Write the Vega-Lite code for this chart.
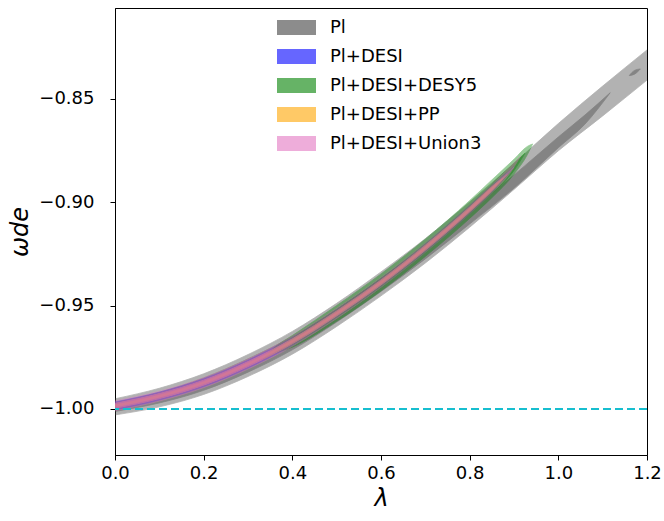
{
  "$schema": "https://vega.github.io/schema/vega-lite/v6.json",
  "width": 532,
  "height": 447,
  "autosize": {"type": "none"},
  "padding": {"left": 115, "top": 8, "right": 17, "bottom": 66},
  "background": "white",
  "config": {
    "view": {"stroke": "black", "strokeWidth": 1},
    "axis": {
      "labelFont": "DejaVu Sans", "labelFontSize": 18, "labelColor": "black",
      "tickColor": "black", "tickSize": 5, "domainColor": "black", "grid": false,
      "titleFont": "DejaVu Sans", "titleFontStyle": "italic", "titleFontWeight": "normal",
      "titleFontSize": 24, "titleColor": "black", "labelFlush": false
    }
  },
  "datasets": {
    "bands": [
      {"set": "Pl", "grp": "P2", "level": "2s", "x": 0, "lo": -1.0029, "hi": -0.9951},
      {"set": "Pl", "grp": "P2", "level": "2s", "x": 0.1, "lo": -0.9990, "hi": -0.9900},
      {"set": "Pl", "grp": "P2", "level": "2s", "x": 0.2, "lo": -0.9930, "hi": -0.9830},
      {"set": "Pl", "grp": "P2", "level": "2s", "x": 0.3, "lo": -0.9843, "hi": -0.9737},
      {"set": "Pl", "grp": "P2", "level": "2s", "x": 0.4, "lo": -0.9735, "hi": -0.9625},
      {"set": "Pl", "grp": "P2", "level": "2s", "x": 0.5, "lo": -0.9601, "hi": -0.9489},
      {"set": "Pl", "grp": "P2", "level": "2s", "x": 0.6, "lo": -0.9453, "hi": -0.9337},
      {"set": "Pl", "grp": "P2", "level": "2s", "x": 0.7, "lo": -0.9294, "hi": -0.9176},
      {"set": "Pl", "grp": "P2", "level": "2s", "x": 0.8, "lo": -0.9121, "hi": -0.8999},
      {"set": "Pl", "grp": "P2", "level": "2s", "x": 0.9, "lo": -0.8938, "hi": -0.8812},
      {"set": "Pl", "grp": "P2", "level": "2s", "x": 1.0, "lo": -0.8751, "hi": -0.8619},
      {"set": "Pl", "grp": "P2", "level": "2s", "x": 1.1, "lo": -0.8582, "hi": -0.8438},
      {"set": "Pl", "grp": "P2", "level": "2s", "x": 1.2, "lo": -0.8409, "hi": -0.8263},

      {"set": "Pl", "grp": "P1", "level": "1s", "x": 0, "lo": -1.0012, "hi": -0.9968},
      {"set": "Pl", "grp": "P1", "level": "1s", "x": 0.1, "lo": -0.9971, "hi": -0.9919},
      {"set": "Pl", "grp": "P1", "level": "1s", "x": 0.2, "lo": -0.9910, "hi": -0.9850},
      {"set": "Pl", "grp": "P1", "level": "1s", "x": 0.3, "lo": -0.9822, "hi": -0.9758},
      {"set": "Pl", "grp": "P1", "level": "1s", "x": 0.4, "lo": -0.9714, "hi": -0.9650},
      {"set": "Pl", "grp": "P1", "level": "1s", "x": 0.5, "lo": -0.9580, "hi": -0.9516},
      {"set": "Pl", "grp": "P1", "level": "1s", "x": 0.6, "lo": -0.9432, "hi": -0.9368},
      {"set": "Pl", "grp": "P1", "level": "1s", "x": 0.7, "lo": -0.9274, "hi": -0.9210},
      {"set": "Pl", "grp": "P1", "level": "1s", "x": 0.8, "lo": -0.9105, "hi": -0.9039},
      {"set": "Pl", "grp": "P1", "level": "1s", "x": 0.9, "lo": -0.8932, "hi": -0.8868},
      {"set": "Pl", "grp": "P1", "level": "1s", "x": 1.0, "lo": -0.8736, "hi": -0.8684},
      {"set": "Pl", "grp": "P1", "level": "1s", "x": 1.06, "lo": -0.8622, "hi": -0.8578},
      {"set": "Pl", "grp": "P1", "level": "1s", "x": 1.117, "lo": -0.8470, "hi": -0.8470},

      {"set": "Pl", "grp": "P1b", "level": "1s", "x": 1.16, "lo": -0.8387, "hi": -0.8387},
      {"set": "Pl", "grp": "P1b", "level": "1s", "x": 1.172, "lo": -0.8380, "hi": -0.8362},
      {"set": "Pl", "grp": "P1b", "level": "1s", "x": 1.185, "lo": -0.8355, "hi": -0.8355},

      {"set": "Pl+DESI", "grp": "D2", "level": "2s", "x": 0, "lo": -1.0004, "hi": -0.9966},
      {"set": "Pl+DESI", "grp": "D2", "level": "2s", "x": 0.1, "lo": -0.9957, "hi": -0.9919},
      {"set": "Pl+DESI", "grp": "D2", "level": "2s", "x": 0.2, "lo": -0.9892, "hi": -0.9854},
      {"set": "Pl+DESI", "grp": "D2", "level": "2s", "x": 0.3, "lo": -0.9802, "hi": -0.9764},
      {"set": "Pl+DESI", "grp": "D2", "level": "2s", "x": 0.4, "lo": -0.9692, "hi": -0.9654},
      {"set": "Pl+DESI", "grp": "D2", "level": "2s", "x": 0.5, "lo": -0.9557, "hi": -0.9519},
      {"set": "Pl+DESI", "grp": "D2", "level": "2s", "x": 0.6, "lo": -0.9407, "hi": -0.9369},
      {"set": "Pl+DESI", "grp": "D2", "level": "2s", "x": 0.7, "lo": -0.9239, "hi": -0.9201},
      {"set": "Pl+DESI", "grp": "D2", "level": "2s", "x": 0.8, "lo": -0.9054, "hi": -0.9016},
      {"set": "Pl+DESI", "grp": "D2", "level": "2s", "x": 0.85, "lo": -0.8952, "hi": -0.8918},
      {"set": "Pl+DESI", "grp": "D2", "level": "2s", "x": 0.9, "lo": -0.8828, "hi": -0.8828},

      {"set": "Pl+DESI", "grp": "D1", "level": "1s", "x": 0, "lo": -0.9994, "hi": -0.9976},
      {"set": "Pl+DESI", "grp": "D1", "level": "1s", "x": 0.1, "lo": -0.9947, "hi": -0.9929},
      {"set": "Pl+DESI", "grp": "D1", "level": "1s", "x": 0.2, "lo": -0.9882, "hi": -0.9864},
      {"set": "Pl+DESI", "grp": "D1", "level": "1s", "x": 0.3, "lo": -0.9792, "hi": -0.9774},
      {"set": "Pl+DESI", "grp": "D1", "level": "1s", "x": 0.4, "lo": -0.9682, "hi": -0.9664},
      {"set": "Pl+DESI", "grp": "D1", "level": "1s", "x": 0.5, "lo": -0.9547, "hi": -0.9529},
      {"set": "Pl+DESI", "grp": "D1", "level": "1s", "x": 0.6, "lo": -0.9397, "hi": -0.9379},
      {"set": "Pl+DESI", "grp": "D1", "level": "1s", "x": 0.7, "lo": -0.9229, "hi": -0.9211},
      {"set": "Pl+DESI", "grp": "D1", "level": "1s", "x": 0.8, "lo": -0.9044, "hi": -0.9026},
      {"set": "Pl+DESI", "grp": "D1", "level": "1s", "x": 0.85, "lo": -0.8943, "hi": -0.8927},
      {"set": "Pl+DESI", "grp": "D1", "level": "1s", "x": 0.885, "lo": -0.8862, "hi": -0.8862},

      {"set": "Pl+DESI+DESY5", "grp": "G2", "level": "2s", "x": 0.334, "lo": -0.9760, "hi": -0.9760},
      {"set": "Pl+DESI+DESY5", "grp": "G2", "level": "2s", "x": 0.36, "lo": -0.9732, "hi": -0.9702},
      {"set": "Pl+DESI+DESY5", "grp": "G2", "level": "2s", "x": 0.4, "lo": -0.9701, "hi": -0.9645},
      {"set": "Pl+DESI+DESY5", "grp": "G2", "level": "2s", "x": 0.5, "lo": -0.9576, "hi": -0.9500},
      {"set": "Pl+DESI+DESY5", "grp": "G2", "level": "2s", "x": 0.6, "lo": -0.9429, "hi": -0.9347},
      {"set": "Pl+DESI+DESY5", "grp": "G2", "level": "2s", "x": 0.7, "lo": -0.9262, "hi": -0.9178},
      {"set": "Pl+DESI+DESY5", "grp": "G2", "level": "2s", "x": 0.8, "lo": -0.9078, "hi": -0.8992},
      {"set": "Pl+DESI+DESY5", "grp": "G2", "level": "2s", "x": 0.85, "lo": -0.8978, "hi": -0.8892},
      {"set": "Pl+DESI+DESY5", "grp": "G2", "level": "2s", "x": 0.9, "lo": -0.8864, "hi": -0.8792},
      {"set": "Pl+DESI+DESY5", "grp": "G2", "level": "2s", "x": 0.93, "lo": -0.8770, "hi": -0.8730},
      {"set": "Pl+DESI+DESY5", "grp": "G2", "level": "2s", "x": 0.942, "lo": -0.8718, "hi": -0.8718},

      {"set": "Pl+DESI+DESY5", "grp": "G1", "level": "1s", "x": 0.36, "lo": -0.9725, "hi": -0.9725},
      {"set": "Pl+DESI+DESY5", "grp": "G1", "level": "1s", "x": 0.4, "lo": -0.9687, "hi": -0.9659},
      {"set": "Pl+DESI+DESY5", "grp": "G1", "level": "1s", "x": 0.5, "lo": -0.9557, "hi": -0.9519},
      {"set": "Pl+DESI+DESY5", "grp": "G1", "level": "1s", "x": 0.6, "lo": -0.9409, "hi": -0.9367},
      {"set": "Pl+DESI+DESY5", "grp": "G1", "level": "1s", "x": 0.7, "lo": -0.9241, "hi": -0.9199},
      {"set": "Pl+DESI+DESY5", "grp": "G1", "level": "1s", "x": 0.8, "lo": -0.9056, "hi": -0.9014},
      {"set": "Pl+DESI+DESY5", "grp": "G1", "level": "1s", "x": 0.85, "lo": -0.8956, "hi": -0.8914},
      {"set": "Pl+DESI+DESY5", "grp": "G1", "level": "1s", "x": 0.9, "lo": -0.8846, "hi": -0.8810},
      {"set": "Pl+DESI+DESY5", "grp": "G1", "level": "1s", "x": 0.925, "lo": -0.8762, "hi": -0.8762},

      {"set": "Pl+DESI+PP", "grp": "O2", "level": "2s", "x": 0, "lo": -0.9997, "hi": -0.9973},
      {"set": "Pl+DESI+PP", "grp": "O2", "level": "2s", "x": 0.1, "lo": -0.9950, "hi": -0.9926},
      {"set": "Pl+DESI+PP", "grp": "O2", "level": "2s", "x": 0.2, "lo": -0.9885, "hi": -0.9861},
      {"set": "Pl+DESI+PP", "grp": "O2", "level": "2s", "x": 0.3, "lo": -0.9795, "hi": -0.9771},
      {"set": "Pl+DESI+PP", "grp": "O2", "level": "2s", "x": 0.4, "lo": -0.9685, "hi": -0.9661},
      {"set": "Pl+DESI+PP", "grp": "O2", "level": "2s", "x": 0.5, "lo": -0.9550, "hi": -0.9526},
      {"set": "Pl+DESI+PP", "grp": "O2", "level": "2s", "x": 0.6, "lo": -0.9400, "hi": -0.9376},
      {"set": "Pl+DESI+PP", "grp": "O2", "level": "2s", "x": 0.7, "lo": -0.9232, "hi": -0.9208},
      {"set": "Pl+DESI+PP", "grp": "O2", "level": "2s", "x": 0.8, "lo": -0.9047, "hi": -0.9023},
      {"set": "Pl+DESI+PP", "grp": "O2", "level": "2s", "x": 0.85, "lo": -0.8946, "hi": -0.8924},
      {"set": "Pl+DESI+PP", "grp": "O2", "level": "2s", "x": 0.885, "lo": -0.8865, "hi": -0.8865},

      {"set": "Pl+DESI+PP", "grp": "O1", "level": "1s", "x": 0, "lo": -0.9990, "hi": -0.9980},
      {"set": "Pl+DESI+PP", "grp": "O1", "level": "1s", "x": 0.1, "lo": -0.9943, "hi": -0.9933},
      {"set": "Pl+DESI+PP", "grp": "O1", "level": "1s", "x": 0.2, "lo": -0.9878, "hi": -0.9868},
      {"set": "Pl+DESI+PP", "grp": "O1", "level": "1s", "x": 0.3, "lo": -0.9788, "hi": -0.9778},
      {"set": "Pl+DESI+PP", "grp": "O1", "level": "1s", "x": 0.4, "lo": -0.9678, "hi": -0.9668},
      {"set": "Pl+DESI+PP", "grp": "O1", "level": "1s", "x": 0.5, "lo": -0.9543, "hi": -0.9533},
      {"set": "Pl+DESI+PP", "grp": "O1", "level": "1s", "x": 0.6, "lo": -0.9393, "hi": -0.9383},
      {"set": "Pl+DESI+PP", "grp": "O1", "level": "1s", "x": 0.7, "lo": -0.9225, "hi": -0.9215},
      {"set": "Pl+DESI+PP", "grp": "O1", "level": "1s", "x": 0.8, "lo": -0.9040, "hi": -0.9030},
      {"set": "Pl+DESI+PP", "grp": "O1", "level": "1s", "x": 0.85, "lo": -0.8940, "hi": -0.8930},
      {"set": "Pl+DESI+PP", "grp": "O1", "level": "1s", "x": 0.875, "lo": -0.8885, "hi": -0.8885},

      {"set": "Pl+DESI+Union3", "grp": "U2", "level": "2s", "x": 0, "lo": -1.0009, "hi": -0.9961},
      {"set": "Pl+DESI+Union3", "grp": "U2", "level": "2s", "x": 0.1, "lo": -0.9962, "hi": -0.9914},
      {"set": "Pl+DESI+Union3", "grp": "U2", "level": "2s", "x": 0.2, "lo": -0.9897, "hi": -0.9849},
      {"set": "Pl+DESI+Union3", "grp": "U2", "level": "2s", "x": 0.3, "lo": -0.9807, "hi": -0.9759},
      {"set": "Pl+DESI+Union3", "grp": "U2", "level": "2s", "x": 0.4, "lo": -0.9697, "hi": -0.9649},
      {"set": "Pl+DESI+Union3", "grp": "U2", "level": "2s", "x": 0.5, "lo": -0.9562, "hi": -0.9514},
      {"set": "Pl+DESI+Union3", "grp": "U2", "level": "2s", "x": 0.6, "lo": -0.9411, "hi": -0.9365},
      {"set": "Pl+DESI+Union3", "grp": "U2", "level": "2s", "x": 0.7, "lo": -0.9242, "hi": -0.9198},
      {"set": "Pl+DESI+Union3", "grp": "U2", "level": "2s", "x": 0.8, "lo": -0.9056, "hi": -0.9014},
      {"set": "Pl+DESI+Union3", "grp": "U2", "level": "2s", "x": 0.85, "lo": -0.8955, "hi": -0.8915},
      {"set": "Pl+DESI+Union3", "grp": "U2", "level": "2s", "x": 0.89, "lo": -0.8862, "hi": -0.8832},
      {"set": "Pl+DESI+Union3", "grp": "U2", "level": "2s", "x": 0.915, "lo": -0.8776, "hi": -0.8776},

      {"set": "Pl+DESI+Union3", "grp": "U1", "level": "1s", "x": 0, "lo": -0.9997, "hi": -0.9973},
      {"set": "Pl+DESI+Union3", "grp": "U1", "level": "1s", "x": 0.1, "lo": -0.9950, "hi": -0.9926},
      {"set": "Pl+DESI+Union3", "grp": "U1", "level": "1s", "x": 0.2, "lo": -0.9885, "hi": -0.9861},
      {"set": "Pl+DESI+Union3", "grp": "U1", "level": "1s", "x": 0.3, "lo": -0.9795, "hi": -0.9771},
      {"set": "Pl+DESI+Union3", "grp": "U1", "level": "1s", "x": 0.4, "lo": -0.9685, "hi": -0.9661},
      {"set": "Pl+DESI+Union3", "grp": "U1", "level": "1s", "x": 0.5, "lo": -0.9550, "hi": -0.9526},
      {"set": "Pl+DESI+Union3", "grp": "U1", "level": "1s", "x": 0.6, "lo": -0.9400, "hi": -0.9376},
      {"set": "Pl+DESI+Union3", "grp": "U1", "level": "1s", "x": 0.7, "lo": -0.9232, "hi": -0.9208},
      {"set": "Pl+DESI+Union3", "grp": "U1", "level": "1s", "x": 0.8, "lo": -0.9046, "hi": -0.9024},
      {"set": "Pl+DESI+Union3", "grp": "U1", "level": "1s", "x": 0.85, "lo": -0.8945, "hi": -0.8925},
      {"set": "Pl+DESI+Union3", "grp": "U1", "level": "1s", "x": 0.9, "lo": -0.8830, "hi": -0.8830}
    ]
  },
  "layer": [
    {
      "data": {"name": "bands"},
      "mark": {"type": "area", "clip": true, "strokeWidth": 0.8, "interpolate": "monotone"},
      "encoding": {
        "x": {
          "field": "x", "type": "quantitative",
          "scale": {"domain": [0, 1.2], "nice": false, "zero": false},
          "axis": {"values": [0, 0.2, 0.4, 0.6, 0.8, 1.0, 1.2], "format": ".1f", "labelPadding": 4, "title": "λ", "titlePadding": 4}
        },
        "y": {
          "field": "lo", "type": "quantitative",
          "scale": {"domain": [-1.0223, -0.806], "nice": false, "zero": false},
          "axis": {"values": [-1.0, -0.95, -0.9, -0.85], "format": ".2f", "labelPadding": 16, "title": "ωde", "titlePadding": 6}
        },
        "y2": {"field": "hi"},
        "detail": {"field": "grp"},
        "color": {
          "field": "set", "type": "nominal",
          "scale": {
            "domain": ["Pl", "Pl+DESI", "Pl+DESI+DESY5", "Pl+DESI+PP", "Pl+DESI+Union3"],
            "range": ["#404040", "#0000ff", "#008000", "#ffa500", "#e377c2"]
          },
          "legend": {
            "title": null, "orient": "none", "legendX": 162, "legendY": 0,
            "symbolType": "M-1,-0.385L1,-0.385L1,0.385L-1,0.385Z",
            "symbolSize": 1521, "symbolOpacity": 0.6, "symbolStrokeWidth": 0,
            "labelFont": "DejaVu Sans", "labelFontSize": 18, "labelColor": "black",
            "labelOffset": 14, "rowPadding": -10.3, "padding": 0
          }
        },
        "stroke": {
          "field": "set", "type": "nominal",
          "scale": {
            "domain": ["Pl", "Pl+DESI", "Pl+DESI+DESY5", "Pl+DESI+PP", "Pl+DESI+Union3"],
            "range": ["#404040", "#0000ff", "#008000", "#ffa500", "#e377c2"]
          },
          "legend": null
        },
        "opacity": {
          "field": "level", "type": "nominal",
          "scale": {"domain": ["2s", "1s"], "range": [0.4, 0.4]},
          "legend": null
        }
      }
    },
    {
      "data": {"values": [{"w": -1.0}]},
      "mark": {"type": "rule", "color": "#17becf", "strokeWidth": 2, "strokeDash": [8, 4]},
      "encoding": {"y": {"field": "w", "type": "quantitative"}}
    }
  ]
}
